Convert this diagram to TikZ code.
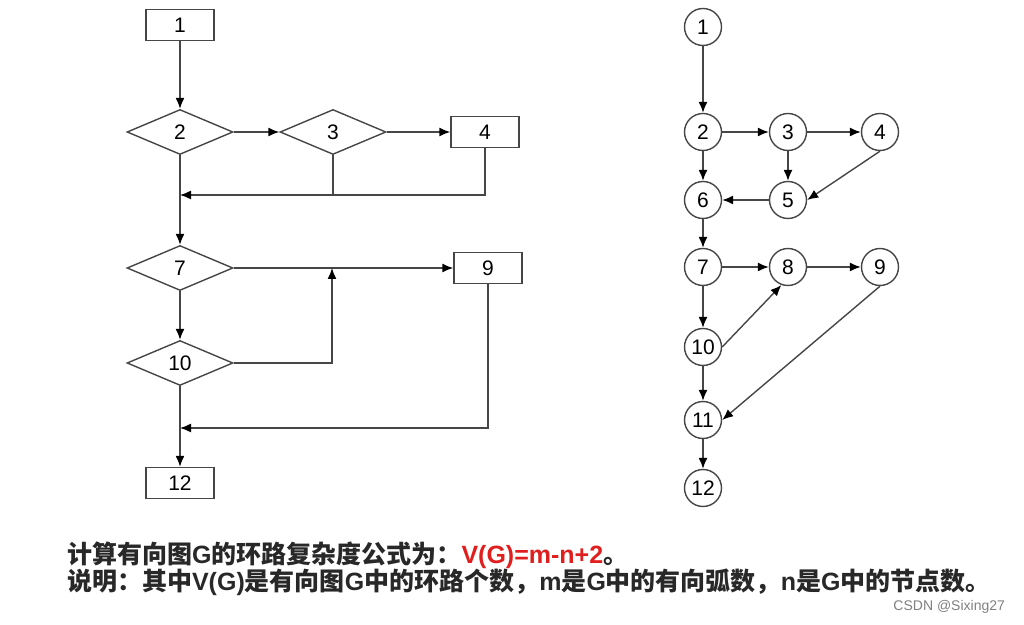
\documentclass[tikz,border=0pt]{standalone}
\usepackage{fontspec}
\setmainfont{Liberation Sans}
\newfontfamily\cjk{Noto Sans CJK SC}
\usetikzlibrary{shapes.geometric, arrows.meta, positioning}
\definecolor{linegray}{RGB}{70, 70, 70}
\definecolor{textgray}{RGB}{40, 40, 40}
\definecolor{formulared}{RGB}{225, 30, 30}

\begin{document}
\begin{tikzpicture}[x=0.5pt, y=-0.5pt,
            box/.style={draw=linegray, line width=0.7pt, minimum width=34pt, minimum height=15.5pt, inner sep=0pt, font=\fontsize{10.5}{12}\selectfont},
            decision/.style={draw=linegray, line width=0.7pt, diamond, minimum width=53pt, minimum height=22.5pt, inner sep=0pt, font=\fontsize{10.5}{12}\selectfont},
            vertex/.style={draw=linegray, line width=0.7pt, circle, minimum size=18.5pt, inner sep=0pt, font=\fontsize{10.5}{12}\selectfont},
            arrow/.style={-{Latex[length=5.5pt, width=4.5pt, color=black]}, line width=0.7pt, linegray},
            link/.style={line width=0.7pt, linegray},
            note/.style={anchor=west, text=textgray, font=\fontsize{12.5}{14}\selectfont\bfseries}
        ]
            \useasboundingbox (0,0) rectangle (1024,625);

            % flow chart
            \node[box] (f1) at (180,25) {1};
            \node[decision] (f2) at (180,132) {2};
            \node[decision] (f3) at (333,132) {3};
            \node[box] (f4) at (485,132) {4};
            \node[decision] (f7) at (180,268) {7};
            \node[box] (f9) at (488,268) {9};
            \node[decision] (f10) at (180,363) {10};
            \node[box] (f12) at (180,483) {12};
            \coordinate (m1) at (180,195);
            \coordinate (m2) at (180,428);
            \coordinate (j1) at (332,268);

            \draw[arrow] (f1) -- (f2);
            \draw[arrow] (f2) -- (f3);
            \draw[arrow] (f3) -- (f4);
            \draw[link] (f3.south) -- (f3.south |- m1);
            \draw[arrow] (f4.south) |- (m1);
            \draw[arrow] (f2) -- (f7);
            \draw[arrow] (f7) -- (f9);
            \draw[arrow] (f7) -- (f10);
            \draw[arrow] (f10.east) -| (j1);
            \draw[arrow] (f9.south) |- (m2);
            \draw[arrow] (f10) -- (f12);

            % flow graph
            \node[vertex] (g1) at (703,27) {1};
            \node[vertex] (g2) at (703,132) {2};
            \node[vertex] (g3) at (788,132) {3};
            \node[vertex] (g4) at (880,132) {4};
            \node[vertex] (g6) at (703,200) {6};
            \node[vertex] (g5) at (788,200) {5};
            \node[vertex] (g7) at (703,267) {7};
            \node[vertex] (g8) at (788,267) {8};
            \node[vertex] (g9) at (880,267) {9};
            \node[vertex] (g10) at (703,347) {10};
            \node[vertex] (g11) at (703,420) {11};
            \node[vertex] (g12) at (703,488) {12};

            \draw[arrow] (g1) -- (g2);
            \draw[arrow] (g2) -- (g3);
            \draw[arrow] (g3) -- (g4);
            \draw[arrow] (g2) -- (g6);
            \draw[arrow] (g3) -- (g5);
            \draw[arrow] (g4.south) -- (g5.east);
            \draw[arrow] (g5) -- (g6);
            \draw[arrow] (g6) -- (g7);
            \draw[arrow] (g7) -- (g8);
            \draw[arrow] (g8) -- (g9);
            \draw[arrow] (g7) -- (g10);
            \draw[arrow] (g10.east) -- (g8.250);
            \draw[arrow] (g10) -- (g11);
            \draw[arrow] (g9.south) -- (g11.east);
            \draw[arrow] (g11) -- (g12);

            % notes
            \node[note] (formula) at (60,555) {{\cjk 计算有向图}G{\cjk 的环路复杂度公式为：}\textcolor{formulared}{V(G)=m-n+2}{\cjk 。}};
            \node[note] (remark) at (60,582) {{\cjk 说明：其中}V(G){\cjk 是有向图}G{\cjk 中的环路个数，}m{\cjk 是}G{\cjk 中的有向弧数，}n{\cjk 是}G{\cjk 中的节点数。}};
            \node[anchor=east, text=gray, font=\fontsize{7}{8}\selectfont] (mark) at (1012,607) {CSDN @Sixing27};
        \end{tikzpicture}
\end{document}
